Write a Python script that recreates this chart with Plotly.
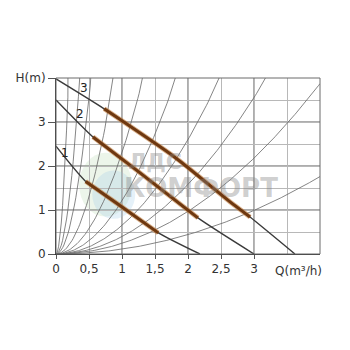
import plotly.graph_objects as go

# ---- data ----
# pump curves (Q m3/h, H m); brown = working range (index slice)
Q1 = [0, 0.45, 1.0, 1.55, 2.18]
H1 = [2.45, 1.65, 1.07, 0.48, 0]
B1 = (1, 3)
Q2 = [0, 0.56, 1.2, 2.15, 3.0]
H2 = [3.5, 2.66, 1.93, 0.82, 0]
B2 = (1, 3)
Q3 = [0, 0.73, 1.8, 2.6, 2.94, 3.62]
H3 = [3.98, 3.3, 2.2, 1.23, 0.84, 0]
B3 = (1, 4)
CURVE_LABELS = ["1", "2", "3"]
LABEL_POS = [(0.13, 2.3), (0.36, 3.18), (0.42, 3.77)]

# system curves H = k * Q^2 (coefficients)
K_SYS = [110, 31, 14.2, 5.2, 2.3, 1.21, 0.65, 0.395, 0.242, 0.11]

X_TICKS = [0, 0.5, 1, 1.5, 2, 2.5, 3]
X_TICKTEXT = ["0", "0,5", "1", "1,5", "2", "2,5", "3"]
Y_TICKS = [0, 1, 2, 3, 4]
Y_TICKTEXT = ["0", "1", "2", "3", "H(m)"]
X_GRID_MAJOR = [1, 2, 3]
Y_GRID_MAJOR = [1, 2, 3]

fig = go.Figure()

# system curves
n = 200
for k in K_SYS:
    qs = [4 * i / n for i in range(n + 1)]
    hs = [k * q * q for q in qs]
    fig.add_trace(go.Scatter(x=qs, y=hs, mode="lines",
                             line=dict(color="#666666", width=0.8),
                             hoverinfo="skip", showlegend=False))

# pump curves
for Q, H, (a, b) in [(Q1, H1, B1), (Q2, H2, B2), (Q3, H3, B3)]:
    fig.add_trace(go.Scatter(x=Q, y=H, mode="lines",
                             line=dict(color="#3a3a3a", width=1.4, shape="spline", smoothing=0.6),
                             hoverinfo="skip", showlegend=False))
    fig.add_trace(go.Scatter(x=Q[a:b + 1], y=H[a:b + 1], mode="lines",
                             line=dict(color="#c07a3a", width=4.8, shape="spline", smoothing=0.6),
                             opacity=0.6, hoverinfo="skip", showlegend=False))
    fig.add_trace(go.Scatter(x=Q[a:b + 1], y=H[a:b + 1], mode="lines",
                             line=dict(color="#6e3810", width=3.0, shape="spline", smoothing=0.6),
                             hoverinfo="skip", showlegend=False))

# darker major grid lines
for v in X_GRID_MAJOR:
    fig.add_vline(x=v, line=dict(color="#5a5a5a", width=1), layer="below")
for v in Y_GRID_MAJOR:
    fig.add_hline(y=v, line=dict(color="#5a5a5a", width=1), layer="below")

# curve labels
for t, (x, y) in zip(CURVE_LABELS, LABEL_POS):
    fig.add_annotation(x=x, y=y, text=t, showarrow=False,
                       font=dict(size=12, color="#222", family="DejaVu Sans"))

# watermark
fig.add_annotation(x=1.5, y=2.1, text="<b>ЛДС</b>", showarrow=False,
                   font=dict(size=22, color="rgba(130,130,130,0.4)", family="DejaVu Sans"))
fig.add_annotation(x=2.2, y=1.5, text="<b>КОМФОРТ</b>", showarrow=False,
                   font=dict(size=26, color="rgba(130,130,130,0.4)", family="DejaVu Sans"))
fig.add_shape(type="circle", xref="x", yref="y", x0=0.35, x1=1.15, y0=0.85, y1=2.3,
              fillcolor="rgba(150,200,140,0.18)", line=dict(width=0), layer="below")
fig.add_shape(type="circle", xref="x", yref="y", x0=0.55, x1=1.2, y0=0.8, y1=1.9,
              fillcolor="rgba(150,200,230,0.25)", line=dict(width=0), layer="below")

# axis title for Q
fig.add_annotation(x=3.68, y=0, yshift=-17, text="Q(m³/h)", showarrow=False,
                   font=dict(size=12, color="#333", family="DejaVu Sans"))

fig.update_layout(
    width=350, height=350,
    margin=dict(l=48, r=38, t=70, b=104, autoexpand=False),
    paper_bgcolor="white", plot_bgcolor="white",
    font=dict(family="DejaVu Sans", size=12, color="#333"),
    xaxis=dict(range=[0, 4], tickvals=X_TICKS, ticktext=X_TICKTEXT,
               showgrid=True, gridcolor="#b8b8b8", gridwidth=1,
               minor=dict(dtick=0.5, showgrid=True, gridcolor="#b8b8b8"),
               showline=True, linecolor="#333", linewidth=1, mirror=False,
               ticks="outside", ticklen=4, tickcolor="#555",
               zeroline=False, fixedrange=True, automargin=False),
    yaxis=dict(range=[0, 4], tickvals=Y_TICKS, ticktext=Y_TICKTEXT,
               showgrid=True, gridcolor="#b8b8b8", gridwidth=1,
               minor=dict(dtick=0.5, showgrid=True, gridcolor="#b8b8b8"),
               showline=True, linecolor="#333", linewidth=1,
               ticks="outside", ticklen=7, tickcolor="#555",
               zeroline=False, fixedrange=True, automargin=False),
)
# top/right border
fig.add_shape(type="rect", xref="paper", yref="paper", x0=0, x1=1, y0=0, y1=1,
              line=dict(color="#6a6a6a", width=1), layer="above")

fig.write_html("out.html")
